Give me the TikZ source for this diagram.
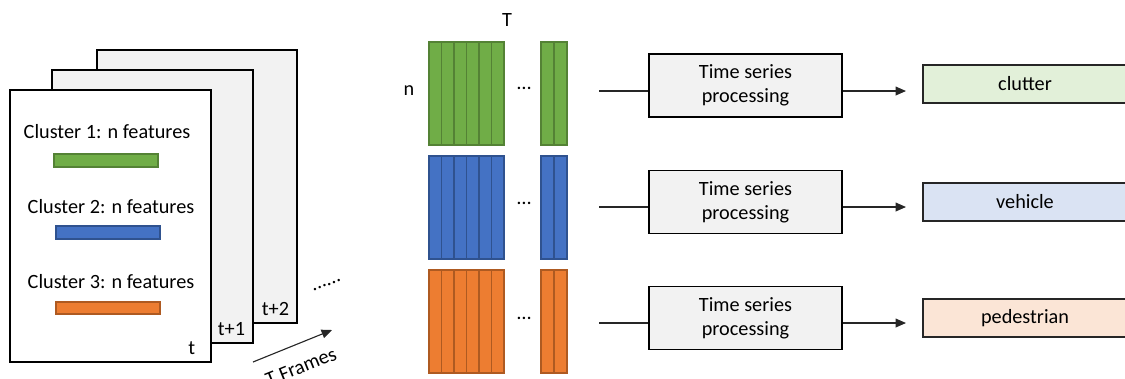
\documentclass[tikz,border=0pt]{standalone}
\usepackage{fontspec}
\setmainfont{Carlito}
\usetikzlibrary{arrows.meta}
\usetikzlibrary{positioning}

\definecolor{grn}{HTML}{70AD47}
\definecolor{grnd}{HTML}{548235}
\definecolor{blu}{HTML}{4472C4}
\definecolor{blud}{HTML}{2F528F}
\definecolor{org}{HTML}{ED7D31}
\definecolor{orgd}{HTML}{AE5A21}
\definecolor{boxgray}{HTML}{F2F2F2}
\definecolor{lgrn}{HTML}{E2F0D9}
\definecolor{lblu}{HTML}{DAE3F3}
\definecolor{lorg}{HTML}{FBE5D6}

\tikzset{
  frame/.style={draw=black,line width=1.4pt},
  procbox/.style={draw=black,fill=boxgray,line width=0.8pt,minimum width=4.825cm,minimum height=1.575cm,align=center},
  outbox/.style={draw=black!85,line width=0.8pt,minimum width=5.1cm,minimum height=0.95cm},
  link/.style={black!85,line width=0.8pt},
  tip/.style={-{Triangle[length=0.26cm,width=0.22cm]}}
}

\begin{document}
\begin{tikzpicture}[x=0.025cm,y=-0.025cm,font=\fontsize{14.4}{17.3}\selectfont]
\useasboundingbox (0,0) rectangle (1125,378);

% frames
\draw[frame,fill=boxgray] (97,50) rectangle (297,323);
\draw[frame,fill=boxgray] (52,70) rectangle (253,343);
\draw[frame,fill=white] (10,90) rectangle (211,362);
\node[anchor=south east] (tt2) at (294,321) {t+2};
\node[anchor=south east] (tt1) at (250,341) {t+1};
\node[anchor=south east] (tt0) at (200,360) {t};

\node (c1) at (107,132) {Cluster 1: n features};
\draw[fill=grn,draw=grnd,line width=0.8pt] (54,154) rectangle (158,167);
\node (c2) at (111,207) {Cluster 2: n features};
\draw[fill=blu,draw=blud,line width=0.8pt] (56,226) rectangle (160,239);
\node (c3) at (111,282) {Cluster 3: n features};
\draw[fill=org,draw=orgd,line width=0.8pt] (56,302) rectangle (160,314);

\node[rotate=22] (more) at (327,285) {......};
\coordinate (ta) at (253,362);
\coordinate (tb) at (332,330);
\draw[link,tip] (ta) -- (tb);
\node[rotate=22] (tframes) at (301,367) {T Frames};

% feature blocks
\node (tlab) at (507,20) {T};
\node (nlab) at (409,91) {n};

\draw[fill=grn,draw=grnd,line width=0.8pt] (429,42) rectangle (441.5,145);
\draw[fill=grn,draw=grnd,line width=0.8pt] (441.5,42) rectangle (454,145);
\draw[fill=grn,draw=grnd,line width=0.8pt] (454,42) rectangle (466.5,145);
\draw[fill=grn,draw=grnd,line width=0.8pt] (466.5,42) rectangle (479,145);
\draw[fill=grn,draw=grnd,line width=0.8pt] (479,42) rectangle (491.5,145);
\draw[fill=grn,draw=grnd,line width=0.8pt] (491.5,42) rectangle (504,145);
\draw[fill=grn,draw=grnd,line width=0.8pt] (541,42) rectangle (554,145);
\draw[fill=grn,draw=grnd,line width=0.8pt] (554,42) rectangle (567,145);
\node (dots1) at (524,88) {…};

\draw[fill=blu,draw=blud,line width=0.8pt] (429,156) rectangle (441.5,259);
\draw[fill=blu,draw=blud,line width=0.8pt] (441.5,156) rectangle (454,259);
\draw[fill=blu,draw=blud,line width=0.8pt] (454,156) rectangle (466.5,259);
\draw[fill=blu,draw=blud,line width=0.8pt] (466.5,156) rectangle (479,259);
\draw[fill=blu,draw=blud,line width=0.8pt] (479,156) rectangle (491.5,259);
\draw[fill=blu,draw=blud,line width=0.8pt] (491.5,156) rectangle (504,259);
\draw[fill=blu,draw=blud,line width=0.8pt] (541,156) rectangle (554,259);
\draw[fill=blu,draw=blud,line width=0.8pt] (554,156) rectangle (567,259);
\node (dots2) at (524,203) {…};

\draw[fill=org,draw=orgd,line width=0.8pt] (429,270) rectangle (441.5,373);
\draw[fill=org,draw=orgd,line width=0.8pt] (441.5,270) rectangle (454,373);
\draw[fill=org,draw=orgd,line width=0.8pt] (454,270) rectangle (466.5,373);
\draw[fill=org,draw=orgd,line width=0.8pt] (466.5,270) rectangle (479,373);
\draw[fill=org,draw=orgd,line width=0.8pt] (479,270) rectangle (491.5,373);
\draw[fill=org,draw=orgd,line width=0.8pt] (491.5,270) rectangle (504,373);
\draw[fill=org,draw=orgd,line width=0.8pt] (541,270) rectangle (554,373);
\draw[fill=org,draw=orgd,line width=0.8pt] (554,270) rectangle (567,373);
\node (dots3) at (524,318) {…};

% processing
\node[procbox] (proc1) at (745.5,85.5) {Time series\\processing};
\node[procbox] (proc2) at (745.5,202) {Time series\\processing};
\node[procbox] (proc3) at (745.5,318) {Time series\\processing};

\node[outbox,fill=lgrn] (out1) at (1025,84) {clutter};
\node[outbox,fill=lblu] (out2) at (1025,202) {vehicle};
\node[outbox,fill=lorg] (out3) at (1025,318) {pedestrian};

\coordinate (in1) at (599,91);
\coordinate (in2) at (599,207);
\coordinate (in3) at (599,323);
\coordinate (hd1) at (906,91);
\coordinate (hd2) at (906,207);
\coordinate (hd3) at (906,323);

\draw[link] (in1) -- (in1 -| proc1.west);
\draw[link] (in2) -- (in2 -| proc2.west);
\draw[link] (in3) -- (in3 -| proc3.west);
\draw[link,tip] (proc1.east |- in1) -- (hd1);
\draw[link,tip] (proc2.east |- in2) -- (hd2);
\draw[link,tip] (proc3.east |- in3) -- (hd3);

\end{tikzpicture}
\end{document}
